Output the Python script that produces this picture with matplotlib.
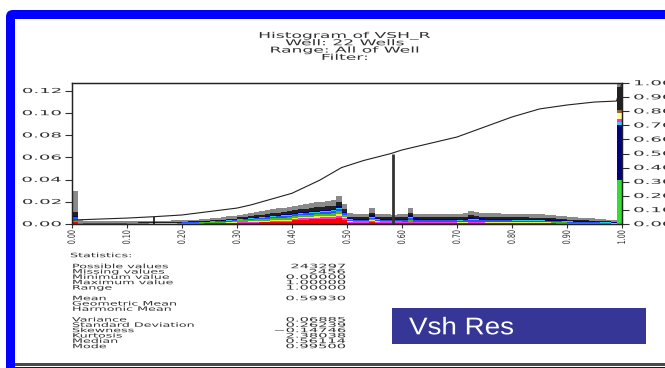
import numpy as np
import matplotlib
matplotlib.use("Agg")
import matplotlib.pyplot as plt
from matplotlib.patches import Rectangle, FancyBboxPatch
from matplotlib.patheffects import AbstractPathEffect
from matplotlib.transforms import Affine2D

# VSH_R histogram, fraction of samples per 0.01 bin
freq = [0.030, 0.0035, 0.0030, 0.0028, 0.0026, 0.0025, 0.0025, 0.0025, 0.0026, 0.0026,
        0.0027, 0.0027, 0.0028, 0.0028, 0.0029, 0.0030, 0.0030, 0.0031, 0.0032, 0.0033,
        0.0035, 0.0037, 0.0040, 0.0043, 0.0047, 0.0050, 0.0056, 0.0062, 0.0068, 0.0075,
        0.0082, 0.0090, 0.0098, 0.0106, 0.0115, 0.0124, 0.0132, 0.0140, 0.0148, 0.0156,
        0.0165, 0.0172, 0.0180, 0.0188, 0.0195, 0.0202, 0.0205, 0.0215, 0.0255, 0.0180,
        0.0095, 0.0090, 0.0088, 0.0090, 0.0142, 0.0092, 0.0090, 0.0088, 0.0085, 0.0088,
        0.0088, 0.0145, 0.0092, 0.0090, 0.0088, 0.0088, 0.0087, 0.0088, 0.0088, 0.0090,
        0.0092, 0.0095, 0.0115, 0.0108, 0.0098, 0.0095, 0.0095, 0.0095, 0.0094, 0.0094,
        0.0094, 0.0093, 0.0093, 0.0092, 0.0090, 0.0088, 0.0085, 0.0080, 0.0075, 0.0070,
        0.0066, 0.0062, 0.0058, 0.0054, 0.0050, 0.0046, 0.0042, 0.0038, 0.0032, 0.130]
bin_width = 0.01

# share of each well group in the bars, per tenth of the range
red_share = [0.05, 0.08, 0.10, 0.12, 0.22, 0.12, 0.08, 0.06, 0.06, 0.06]
magenta_share = [0.05, 0.06, 0.06, 0.06, 0.08, 0.10, 0.10, 0.08, 0.08, 0.08]
yellow_share = [0.00, 0.02, 0.05, 0.06, 0.05, 0.03, 0.02, 0.02, 0.02, 0.02]
green_share = [0.05, 0.08, 0.12, 0.15, 0.10, 0.04, 0.03, 0.03, 0.04, 0.04]
blue_share = [0.05, 0.08, 0.10, 0.10, 0.08, 0.12, 0.15, 0.15, 0.12, 0.12]
cyan_share = [0.02, 0.03, 0.04, 0.05, 0.04, 0.04, 0.04, 0.04, 0.04, 0.04]
navy_share = [0.03, 0.05, 0.05, 0.04, 0.05, 0.10, 0.12, 0.14, 0.12, 0.10]
black_share = [0.10, 0.10, 0.12, 0.15, 0.15, 0.15, 0.15, 0.15, 0.15, 0.15]

# last bin (VSH = 1) split by group
last_colors = ["#33dd33", "#000080", "#33ccff", "#ff33cc", "#ffff99", "#996633", "#202020", "#8a8a8a"]
last_heights = [0.040, 0.049, 0.003, 0.003, 0.005, 0.003, 0.020, 0.007]

# cumulative curve
cum_x = [0.0, 0.10, 0.15, 0.20, 0.30, 0.325, 0.40, 0.45, 0.49, 0.53, 0.58, 0.60,
         0.70, 0.75, 0.80, 0.85, 0.90, 0.95, 0.99, 1.0]
cum_y = [0.028, 0.042, 0.052, 0.064, 0.113, 0.135, 0.218, 0.310, 0.40, 0.45, 0.50, 0.525,
         0.617, 0.688, 0.759, 0.816, 0.844, 0.865, 0.872, 1.0]
marker_x = [0.149, 0.583]
marker_top = [0.052, 0.50]

title_lines = ["Histogram of VSH_R", "Well: 22 Wells", "Range: All of Well", "Filter:"]
stat_names = [["Possible values", "Missing values", "Minimum value", "Maximum value", "Range"],
              ["Mean", "Geometric Mean", "Harmonic Mean"],
              ["Variance", "Standard Deviation", "Skewness", "Kurtosis", "Median", "Mode"]]
stat_values = [["243297", "2456", "0.00000", "1.00000", "1.00000"],
               ["0.59930", "\u2014", "\u2014"],
               ["0.06885", "0.26239", "\u22120.14746", "2.38038", "0.56114", "0.99500"]]

TEXT = "#303030"


class Stretch(AbstractPathEffect):
    """Scale glyph outlines; x about the aligned edge, y about mid cap height."""
    def __init__(self, sx=1.0, sy=1.0, anchor="left", yc=36.5):
        super().__init__()
        self.sx, self.sy, self.anchor, self.yc = sx, sy, anchor, yc

    def draw_path(self, renderer, gc, tpath, affine, rgbFace=None):
        ext = tpath.get_extents()
        x0 = {"left": 0.0, "center": 0.5 * (ext.x0 + ext.x1), "right": ext.x1}[self.anchor]
        tr = (Affine2D().translate(-x0, -self.yc).scale(self.sx, self.sy)
              .translate(x0, self.yc))
        renderer.draw_path(gc, tpath, (tr + affine).frozen(), rgbFace)


def wide_text(ax, x, yc, s, size, sx, sy=1.0, ha="left", **kw):
    base = yc + 0.365 * size * 100 / 72
    t = ax.text(x, base, s, fontsize=size, va="baseline", ha=ha,
                color=kw.pop("color", TEXT), **kw)
    t.set_path_effects([Stretch(sx, sy, ha)])
    return t


fig = plt.figure(figsize=(6.65, 3.68), dpi=100)
bg = fig.add_axes([0, 0, 1, 1])
bg.set_xlim(0, 665)
bg.set_ylim(368, 0)
bg.axis("off")

# window frame
bg.add_patch(FancyBboxPatch((6, 10), 700, 400, boxstyle="round,pad=0,rounding_size=7",
                            fc="#0000ff", ec="none"))
bg.add_patch(Rectangle((15, 19), 660, 347.5, fc="white", ec="none"))
bg.add_patch(Rectangle((15, 363), 660, 2.5, fc="#4a4a4a", ec="none"))

for i, line in enumerate(title_lines):
    wide_text(bg, 345, 35 + 7.3 * i, line, 4.3, 2.87, 1.35, ha="center")

wide_text(bg, 70, 255, "Statistics:", 3.2, 2.86, 1.36)
row_y = 266
for names, values in zip(stat_names, stat_values):
    for name, val in zip(names, values):
        wide_text(bg, 72, row_y, name, 3.2, 2.86, 1.36)
        wide_text(bg, 345, row_y, val, 3.2, 3.3, 1.36, ha="right")
        row_y += 5.33
    row_y += 5.33

bg.add_patch(Rectangle((392, 308), 254, 36, fc="#363696", ec="none"))
wide_text(bg, 409, 325.5, "Vsh Res", 17.4, 1.15, color="white", family="Liberation Sans")

# histogram axes
ax = fig.add_axes([72 / 665, (368 - 224) / 368, 550 / 665, 141 / 368])
ax.set_xlim(0, 1)
ax.set_ylim(0, 0.127)

x_left = np.arange(len(freq)) * bin_width
shares = [("#ff0000", red_share), ("#ff33cc", magenta_share), ("#eeee44", yellow_share),
          ("#44bb22", green_share), ("#2255ff", blue_share), ("#22ccee", cyan_share),
          ("#000080", navy_share), ("#202020", black_share)]
bottom = np.zeros(len(freq) - 1)
total = np.array(freq[:-1])
seg = np.minimum((np.arange(len(freq) - 1) * bin_width * 10 + 1e-9).astype(int), 9)
for color, share in shares:
    h = total * np.array(share)[seg]
    ax.bar(x_left[:-1], h, width=bin_width, bottom=bottom, align="edge", color=color, linewidth=0)
    bottom += h
ax.bar(x_left[:-1], total - bottom, width=bin_width, bottom=bottom, align="edge",
       color="#8a8a8a", linewidth=0)

b = 0.0
for color, h in zip(last_colors, last_heights):
    ax.bar(x_left[-1], h, width=bin_width, bottom=b, align="edge", color=color, linewidth=0)
    b += h

xt = np.arange(0, 1.01, 0.1)
ax.set_xticks(xt)
ax.set_xticklabels(["%.2f" % v for v in xt], rotation=90)
yt = np.arange(0, 0.121, 0.02)
ax.set_yticks(yt)
ax.set_yticklabels(["%.2f" % v for v in yt])
ax.tick_params(axis="y", length=5, width=0.8, pad=3, labelsize=4.5, colors=TEXT)
ax.tick_params(axis="x", length=3, width=0.8, pad=1.5, labelsize=4.6, colors=TEXT)
for lbl in ax.get_yticklabels():
    lbl.set_path_effects([Stretch(2.9, 1.1, "right")])
for lbl in ax.get_xticklabels():
    lbl.set_path_effects([Stretch(1.0, 1.6, "center")])
for sp in ax.spines.values():
    sp.set_linewidth(0.9)
    sp.set_color("#222222")

ax2 = ax.twinx()
ax2.set_ylim(0, 1.0)
ax2.plot(cum_x, cum_y, color="#222222", lw=0.8)
ax2.vlines(marker_x, 0, marker_top, colors=["#111111", "#333333"], linewidths=[1.2, 2.0])
rt = np.arange(0, 1.01, 0.1)
ax2.set_yticks(rt)
ax2.set_yticklabels(["%.2f" % v for v in rt])
ax2.tick_params(axis="y", length=5, width=0.8, pad=3, labelsize=4.5, colors=TEXT)
for lbl in ax2.get_yticklabels():
    lbl.set_path_effects([Stretch(2.9, 1.1, "left")])
for sp in ax2.spines.values():
    sp.set_linewidth(0.9)
    sp.set_color("#222222")

fig.savefig("out.png", dpi=100)
